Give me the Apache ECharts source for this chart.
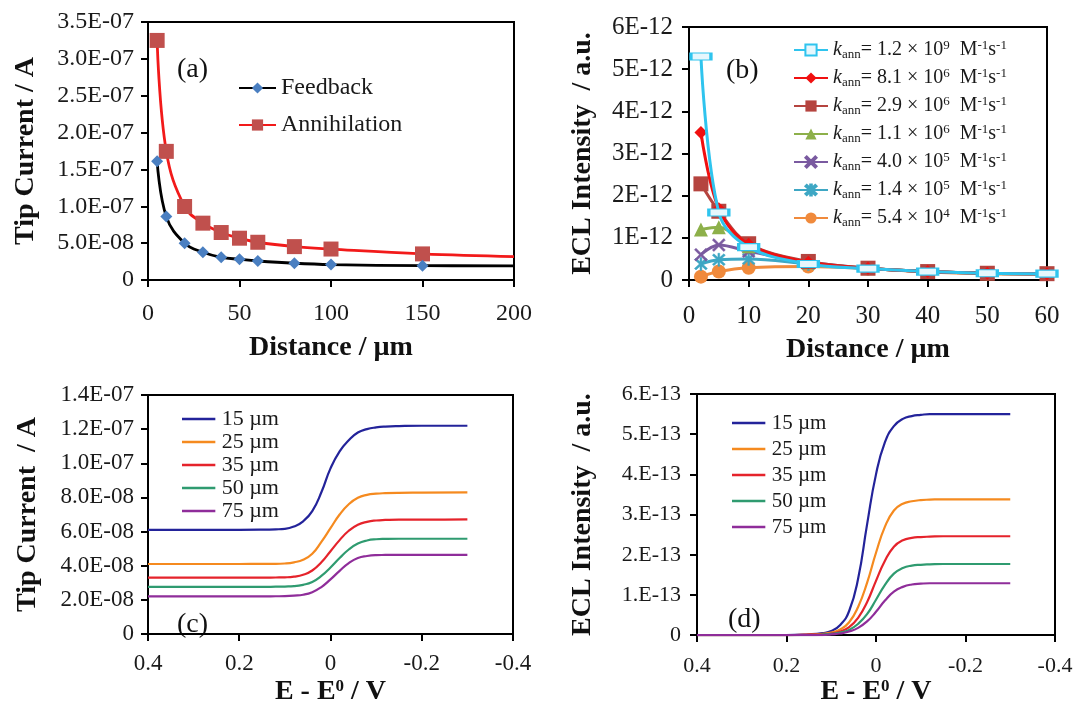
<!DOCTYPE html>
<html><head><meta charset="utf-8">
<script src="https://cdn.jsdelivr.net/npm/echarts@6/dist/echarts.min.js"></script>
<style>html,body{margin:0;padding:0;background:#fff}#c{width:1077px;height:707px}</style>
</head><body><div id="c"></div>
<script>
// ---------- Panel (a): tip current (units of 1e-8 A) vs distance ----------
const distanceA = [5, 10, 20, 30, 40, 50, 60, 80, 100, 150, 200];
const feedbackA = [16.1, 8.6, 5.0, 3.76, 3.08, 2.81, 2.58, 2.27, 2.09, 1.95, 1.92];
const annihilationA = [32.5, 17.45, 9.97, 7.71, 6.44, 5.67, 5.12, 4.53, 4.2, 3.54, 3.17];
const yLabelsA = ['0', '5.0E-08', '1.0E-07', '1.5E-07', '2.0E-07', '2.5E-07', '3.0E-07', '3.5E-07'];

// ---------- Panel (b): ECL intensity (units of 1e-12) vs distance ----------
const distanceB = [2, 5, 10, 20, 30, 40, 50, 60];
const kMant = ['1.2', '8.1', '2.9', '1.1', '4.0', '1.4', '5.4'];
const kExp = ['9', '6', '6', '6', '5', '5', '4'];
const eclB = [
  [5.3, 1.6, 0.78, 0.38, 0.27, 0.2, 0.16, 0.15],
  [3.5, 1.69, 0.85, 0.42, 0.28, 0.2, 0.16, 0.15],
  [2.28, 1.63, 0.86, 0.44, 0.28, 0.2, 0.16, 0.15],
  [1.2, 1.25, 0.8, 0.42, 0.28, 0.2, 0.16, 0.15],
  [0.6, 0.83, 0.68, 0.42, 0.28, 0.2, 0.16, 0.15],
  [0.38, 0.48, 0.5, 0.38, 0.27, 0.2, 0.16, 0.15],
  [0.08, 0.2, 0.29, 0.32, 0.27, 0.19, 0.15, 0.14]
];
const yLabelsB = ['0', '1E-12', '2E-12', '3E-12', '4E-12', '5E-12', '6E-12'];

// ---------- Panels (c),(d): vs E - E0 ----------
const distLabels = ['15 µm', '25 µm', '35 µm', '50 µm', '75 µm'];
const ePot = [0.4, 0.3, 0.2, 0.15, 0.12, 0.1, 0.08, 0.06, 0.04, 0.02, 0, -0.02, -0.04, -0.06, -0.08, -0.1, -0.12, -0.15, -0.2, -0.3];
// tip current, units of 1e-8 A
const tipC = [
  [6.10, 6.10, 6.10, 6.11, 6.13, 6.16, 6.3, 6.6, 7.2, 8.3, 9.7, 10.7, 11.35, 11.8, 12.0, 12.1, 12.15, 12.18, 12.2, 12.2],
  [4.10, 4.10, 4.10, 4.11, 4.11, 4.13, 4.2, 4.35, 4.7, 5.4, 6.2, 7.0, 7.6, 7.98, 8.15, 8.22, 8.25, 8.27, 8.28, 8.3],
  [3.30, 3.30, 3.30, 3.30, 3.31, 3.32, 3.36, 3.47, 3.72, 4.2, 4.85, 5.5, 6.05, 6.4, 6.57, 6.65, 6.68, 6.7, 6.7, 6.72],
  [2.76, 2.76, 2.76, 2.76, 2.77, 2.78, 2.8, 2.88, 3.05, 3.4, 3.9, 4.45, 4.95, 5.3, 5.48, 5.55, 5.57, 5.58, 5.58, 5.58],
  [2.20, 2.20, 2.20, 2.20, 2.21, 2.22, 2.25, 2.3, 2.45, 2.75, 3.2, 3.7, 4.15, 4.45, 4.57, 4.62, 4.63, 4.64, 4.64, 4.64]
];
// ECL intensity, units of 1e-13
const eclD = [
  [0, 0, 0, 0.02, 0.05, 0.1, 0.25, 0.6, 1.4, 2.75, 4.0, 4.8, 5.2, 5.38, 5.45, 5.48, 5.5, 5.5, 5.5, 5.5],
  [0, 0, 0, 0.01, 0.03, 0.06, 0.14, 0.32, 0.7, 1.3, 2.05, 2.7, 3.1, 3.27, 3.33, 3.36, 3.37, 3.38, 3.38, 3.38],
  [0, 0, 0, 0.01, 0.02, 0.04, 0.09, 0.2, 0.43, 0.82, 1.35, 1.85, 2.2, 2.36, 2.42, 2.44, 2.45, 2.46, 2.46, 2.46],
  [0, 0, 0, 0, 0.01, 0.03, 0.06, 0.13, 0.28, 0.52, 0.88, 1.25, 1.53, 1.67, 1.73, 1.75, 1.76, 1.77, 1.77, 1.77],
  [0, 0, 0, 0, 0, 0.02, 0.04, 0.09, 0.18, 0.34, 0.58, 0.86, 1.08, 1.2, 1.26, 1.28, 1.29, 1.29, 1.29, 1.29]
];
const yLabelsC = ['0', '2.0E-08', '4.0E-08', '6.0E-08', '8.0E-08', '1.0E-07', '1.2E-07', '1.4E-07'];
const yLabelsD = ['0', '1.E-13', '2.E-13', '3.E-13', '4.E-13', '5.E-13', '6.E-13'];
const xLabelsE = ['-0.4', '-0.2', '0', '0.2', '0.4'];

// ---------- styling ----------
const SERIF = '"Liberation Serif","Times New Roman",serif';
const TXT = '#1a1a1a';
const colorsB = ['#2fc4ee', '#f01010', '#b5443f', '#8db04a', '#7a5aa0', '#3ea7c4', '#f08a3c'];
const XMARK = 'path://M0,1.2L1.2,0L5,3.8L8.8,0L10,1.2L6.2,5L10,8.8L8.8,10L5,6.2L1.2,10L0,8.8L3.8,5Z';
const STAR = 'path://M0,1.2L1.2,0L5,3.8L8.8,0L10,1.2L6.2,5L10,8.8L8.8,10L5,6.2L1.2,10L0,8.8L3.8,5Z M4.3,-0.5L5.7,-0.5L5.7,10.5L4.3,10.5Z';
const symbolsB = ['rect', 'diamond', 'rect', 'triangle', XMARK, STAR, 'circle'];
const symbolSizeB = [[20, 7], 13, 15, 14, 13, 13, 14];
const colorsCD = ['#23239a', '#f58a1f', '#e5232b', '#2f9b70', '#8f2d9a'];

function axisCommon(fs) {
  return {
    axisLine: { show: true, onZero: false, lineStyle: { color: '#000', width: 2 } },
    axisTick: { show: true, inside: false, length: 7, lineStyle: { color: '#000', width: 2 } },
    splitLine: { show: false },
    axisLabel: { color: TXT, fontFamily: SERIF, fontSize: fs },
    nameLocation: 'middle',
    nameTextStyle: { color: '#111', fontFamily: SERIF, fontSize: 28, fontWeight: 'bold' }
  };
}
function mk(base, extra) {
  const o = Object.assign({}, base, extra);
  o.axisLabel = Object.assign({}, base.axisLabel, extra.axisLabel || {});
  o.nameTextStyle = Object.assign({}, base.nameTextStyle, extra.nameTextStyle || {});
  return o;
}

const grids = [
  { left: 148, top: 22, width: 366, height: 258 },
  { left: 689, top: 27, width: 358, height: 253 },
  { left: 148, top: 395, width: 365, height: 248 },
  { left: 697, top: 394, width: 358, height: 246 }
].map(g => Object.assign(g, { show: true, borderColor: '#000', borderWidth: 2, backgroundColor: 'transparent' }));

const eTitleRich = {
  t: { fontFamily: SERIF, fontSize: 28, fontWeight: 'bold', color: '#111' },
  s: { fontFamily: SERIF, fontSize: 17, fontWeight: 'bold', color: '#111', verticalAlign: 'top' }
};

const xAxes = [
  mk(axisCommon(24), { gridIndex: 0, type: 'value', min: 0, max: 200, interval: 50,
    name: 'Distance / µm', nameGap: 54, axisLabel: { margin: 22 } }),
  mk(axisCommon(25), { gridIndex: 1, type: 'value', min: 0, max: 60, interval: 10,
    name: 'Distance / µm', nameGap: 56, axisLabel: { margin: 24 } }),
  mk(axisCommon(23), { gridIndex: 2, type: 'value', min: -0.4, max: 0.4, interval: 0.2, inverse: true,
    name: '{t|E - E}{s|0}{t| / V}', nameGap: 44, nameTextStyle: { rich: eTitleRich },
    axisLabel: { margin: 18, formatter: v => xLabelsE[Math.round((v + 0.4) / 0.2)] } }),
  mk(axisCommon(22), { gridIndex: 3, type: 'value', min: -0.4, max: 0.4, interval: 0.2, inverse: true,
    name: '{t|E - E}{s|0}{t| / V}', nameGap: 42, nameTextStyle: { rich: eTitleRich },
    axisLabel: { margin: 20, formatter: v => xLabelsE[Math.round((v + 0.4) / 0.2)] } })
];
const yAxes = [
  mk(axisCommon(24), { gridIndex: 0, type: 'value', min: 0, max: 35, interval: 5,
    name: 'Tip Current / A', nameGap: 108, axisLabel: { margin: 14, formatter: v => yLabelsA[Math.round(v / 5)] } }),
  mk(axisCommon(25), { gridIndex: 1, type: 'value', min: 0, max: 6, interval: 1,
    name: 'ECL Intensity  / a.u.', nameGap: 92, axisLabel: { margin: 16, formatter: v => yLabelsB[Math.round(v)] } }),
  mk(axisCommon(23), { gridIndex: 2, type: 'value', min: 0, max: 14, interval: 2,
    name: 'Tip Current  / A', nameGap: 106, axisLabel: { margin: 14, formatter: v => yLabelsC[Math.round(v / 2)] } }),
  mk(axisCommon(22), { gridIndex: 3, type: 'value', min: 0, max: 6, interval: 1,
    name: 'ECL Intensity  / a.u.', nameGap: 100, axisLabel: { margin: 16, formatter: v => yLabelsD[Math.round(v)] } })
];

const series = [];
// (a)
series.push({
  name: 'Feedback', type: 'line', xAxisIndex: 0, yAxisIndex: 0, smooth: 0.4,
  lineStyle: { color: '#000', width: 2.8 }, itemStyle: { color: '#4a7fc1' }, symbol: 'diamond', symbolSize: 12,
  data: distanceA.map((x, i) => i === distanceA.length - 1 ? { value: [x, feedbackA[i]], symbol: 'none' } : [x, feedbackA[i]]), z: 3
});
series.push({
  name: 'Annihilation', type: 'line', xAxisIndex: 0, yAxisIndex: 0, smooth: 0.4,
  lineStyle: { color: '#f21a1a', width: 2.8 }, itemStyle: { color: '#c0504d' }, symbol: 'rect', symbolSize: 15,
  data: distanceA.map((x, i) => i === distanceA.length - 1 ? { value: [x, annihilationA[i]], symbol: 'none' } : [x, annihilationA[i]]), z: 2
});
// (b)
const kNames = kMant.map((m, i) => 'k_ann = ' + m + ' x 10^' + kExp[i]);
eclB.forEach((ys, i) => {
  const hollow = i === 0;
  series.push({
    name: kNames[i], type: 'line', xAxisIndex: 1, yAxisIndex: 1, smooth: 0.35,
    lineStyle: { color: colorsB[i], width: 3 },
    itemStyle: hollow ? { color: '#e6f7fd', borderColor: colorsB[i], borderWidth: 2 } : { color: colorsB[i], borderColor: colorsB[i], borderWidth: (i === 4 || i === 5) ? 0.5 : 0 },
    symbol: symbolsB[i], symbolSize: symbolSizeB[i],
    data: distanceB.map((x, j) => [x, ys[j]]), z: 10 - i
  });
});
// (c)
tipC.forEach((ys, i) => {
  series.push({
    name: distLabels[i], type: 'line', xAxisIndex: 2, yAxisIndex: 2, smooth: 0.5,
    symbol: 'none', showSymbol: false, lineStyle: { color: colorsCD[i], width: 2.2 }, itemStyle: { color: colorsCD[i] },
    data: ePot.map((x, j) => [x, ys[j]])
  });
});
// (d)
eclD.forEach((ys, i) => {
  series.push({
    name: distLabels[i], type: 'line', xAxisIndex: 3, yAxisIndex: 3, smooth: 0.5,
    symbol: 'none', showSymbol: false, lineStyle: { color: colorsCD[i], width: 2.2 }, itemStyle: { color: colorsCD[i] },
    data: ePot.map((x, j) => [x, ys[j]])
  });
});

const richB = {
  k: { fontFamily: SERIF, fontSize: 20, fontStyle: 'italic', color: TXT, lineHeight: 22 },
  s: { fontFamily: SERIF, fontSize: 13, color: TXT, verticalAlign: 'bottom', lineHeight: 22 },
  t: { fontFamily: SERIF, fontSize: 20, color: TXT, lineHeight: 22 },
  p: { fontFamily: SERIF, fontSize: 13, color: TXT, verticalAlign: 'top', lineHeight: 22 }
};
const lineIcon = 'path://M0,0L40,0L40,3L0,3Z';

const legends = [
  { data: ['Feedback', 'Annihilation'], orient: 'vertical', left: 233, top: 70, itemWidth: 37, itemHeight: 14, itemGap: 11,
    textStyle: { fontFamily: SERIF, fontSize: 24, color: TXT, lineHeight: 26 }, selectedMode: false },
  { data: kNames, orient: 'vertical', left: 788, top: 34, itemWidth: 34, itemHeight: 14, itemGap: 6,
    formatter: name => { const i = kNames.indexOf(name);
      return '{k|k}{s|ann}{t|= ' + kMant[i] + ' × 10}{p|' + kExp[i] + '}{t|  M}{p|-1}{t|s}{p|-1}'; },
    textStyle: { rich: richB, fontFamily: SERIF, fontSize: 20, color: TXT }, selectedMode: false },
  { data: distLabels, orient: 'vertical', left: 177, top: 403, icon: lineIcon, itemWidth: 36, itemHeight: 2.5, itemGap: 1,
    textStyle: { fontFamily: SERIF, fontSize: 22, color: TXT, lineHeight: 22 }, selectedMode: false },
  { data: distLabels, orient: 'vertical', left: 727, top: 407, icon: lineIcon, itemWidth: 36, itemHeight: 2.5, itemGap: 4,
    textStyle: { fontFamily: SERIF, fontSize: 21, color: TXT, lineHeight: 22 }, selectedMode: false }
];

const graphic = [
  { type: 'text', left: 177, top: 56, style: { text: '(a)', font: '28px ' + SERIF, fill: '#111' } },
  { type: 'text', left: 726, top: 57, style: { text: '(b)', font: '28px ' + SERIF, fill: '#111' } },
  { type: 'text', left: 177, top: 611, style: { text: '(c)', font: '28px ' + SERIF, fill: '#111' } },
  { type: 'text', left: 728, top: 606, style: { text: '(d)', font: '28px ' + SERIF, fill: '#111' } }
];

const chart = echarts.init(document.getElementById('c'), null, { renderer: 'canvas' });
chart.setOption({
  animation: false, backgroundColor: '#fff',
  grid: grids, xAxis: xAxes, yAxis: yAxes, legend: legends, series: series, graphic: graphic
});
</script></body></html>
